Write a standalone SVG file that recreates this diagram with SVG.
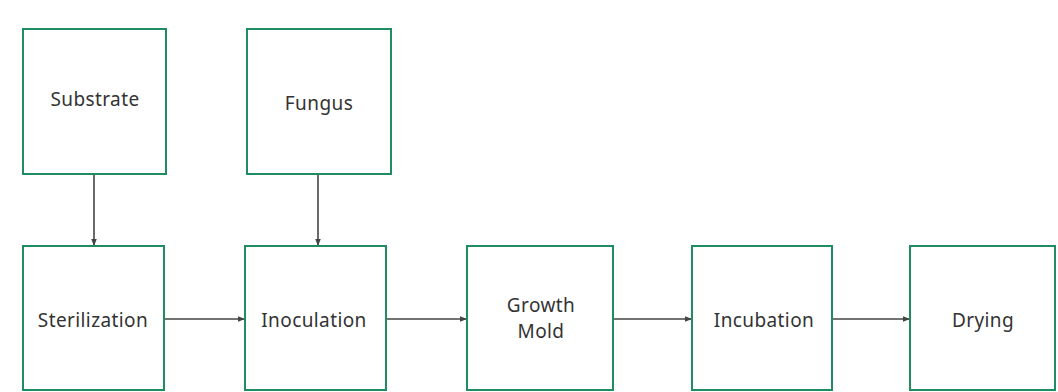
<svg xmlns="http://www.w3.org/2000/svg" width="1058" height="392" viewBox="0 0 1058 392">
<style>
.box{fill:#fff;stroke:#1f8c62;stroke-width:2}
.lbl{font-family:"Noto Sans","Liberation Sans",sans-serif;font-size:19px;letter-spacing:0.4px;fill:#333;text-anchor:middle;dominant-baseline:central}
.con{stroke:#444;stroke-width:1.6;fill:none;marker-end:url(#ah)}
</style>
<defs>
<marker id="ah" viewBox="0 0 10 10" refX="10" refY="5" markerWidth="7" markerHeight="7" markerUnits="userSpaceOnUse" orient="auto">
<path d="M0,1 L10,5 L0,9 z" fill="#444"/>
</marker>
</defs>
<rect width="1058" height="392" fill="#fff"/>
<g id="connectors">
<line class="con" x1="94" y1="174" x2="94" y2="246"/>
<line class="con" x1="318" y1="174" x2="318" y2="246"/>
<line class="con" x1="164" y1="319" x2="245" y2="319"/>
<line class="con" x1="386" y1="319" x2="467" y2="319"/>
<line class="con" x1="613" y1="319" x2="692" y2="319"/>
<line class="con" x1="832" y1="319" x2="910" y2="319"/>
</g>
<g id="substrate"><rect class="box" x="23" y="29" width="143" height="145"/><text class="lbl" x="95" y="99">Substrate</text></g>
<g id="fungus"><rect class="box" x="247" y="29" width="144" height="145"/><text class="lbl" x="319" y="103">Fungus</text></g>
<g id="sterilization"><rect class="box" x="23" y="246" width="141" height="144"/><text class="lbl" x="93" y="320">Sterilization</text></g>
<g id="inoculation"><rect class="box" x="245" y="246" width="141" height="144"/><text class="lbl" x="314" y="320">Inoculation</text></g>
<g id="growth-mold"><rect class="box" x="467" y="246" width="146" height="144"/><text class="lbl" x="541" y="305">Growth</text><text class="lbl" x="541" y="331">Mold</text></g>
<g id="incubation"><rect class="box" x="692" y="246" width="140" height="144"/><text class="lbl" x="764" y="320">Incubation</text></g>
<g id="drying"><rect class="box" x="910" y="246" width="145" height="144"/><text class="lbl" x="983" y="320">Drying</text></g>
</svg>
